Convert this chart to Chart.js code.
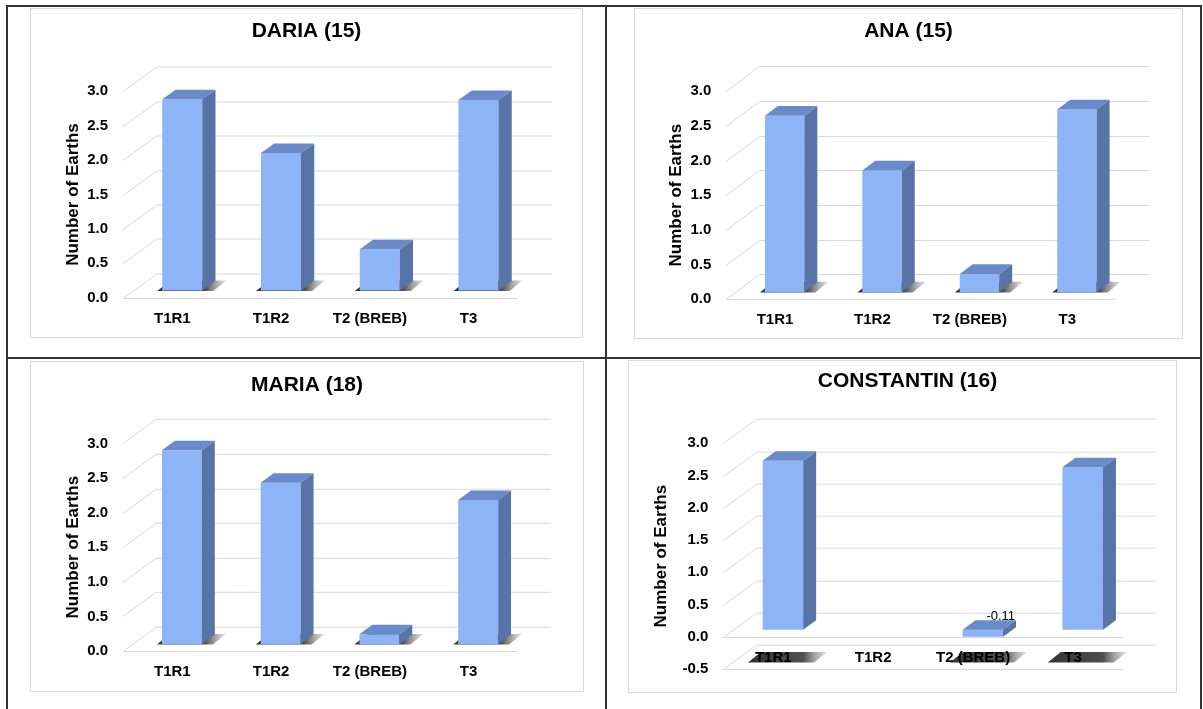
<!DOCTYPE html>
<html>
<head>
<meta charset="utf-8">
<script src="https://cdn.jsdelivr.net/npm/chart.js@4.4.1/dist/chart.umd.min.js"></script>
<style>
  html, body { margin: 0; padding: 0; background: #fff; }
  body { width: 1203px; height: 709px; position: relative; overflow: hidden; }
  .rule { position: absolute; background: #333; }
  .panel { position: absolute; }
  .panel canvas { position: absolute; left: 0; top: 0; }
  .frame { position: absolute; left: 0; top: 0; right: 0; bottom: 0; border: 1px solid #d9d9d9; box-sizing: border-box; pointer-events: none; }
</style>
</head>
<body>
<!-- table rules around the four panels -->
<div class="rule" style="left:6px;top:5px;width:1196px;height:2px"></div>
<div class="rule" style="left:6px;top:5px;width:2px;height:704px"></div>
<div class="rule" style="left:605px;top:5px;width:2px;height:704px"></div>
<div class="rule" style="left:1200px;top:5px;width:2px;height:704px"></div>
<div class="rule" style="left:6px;top:357px;width:1196px;height:2px"></div>

<script>
// ---- data ----
const categories = ['T1R1', 'T1R2', 'T2 (BREB)', 'T3'];
const panelTitles = ['DARIA (15)', 'ANA (15)', 'MARIA (18)', 'CONSTANTIN (16)'];
const yAxisTitle = 'Number of Earths';

const dariaValues = [2.78, 2.0, 0.6, 2.77];
const anaValues = [2.54, 1.75, 0.26, 2.63];
const mariaValues = [2.80, 2.33, 0.14, 2.08];
const constantinValues = [2.62, null, -0.11, 2.52];

// indices of bars that carry a value label
const dariaLabelled = [];
const anaLabelled = [];
const mariaLabelled = [];
const constantinLabelled = [2];

const yMins = [0, 0, 0, -0.5];
const yMax = 3.0;
const yStep = 0.5;

// ---- layout (pixels, relative to each panel frame) ----
const panelLayouts = [
  { x: 30,  y: 8,   w: 553, h: 330, left: 93,   right: 488, top: 83.3, bottom: 289.7, titleY: 23.5, titleShift: 0, axisTitleX: 43.5, depth: [34, -24.5] },
  { x: 634, y: 8,   w: 549, h: 331, left: 92.3, right: 482, top: 83.1, bottom: 291.3, titleY: 23.3, titleShift: 0, axisTitleX: 42.5, depth: [33.2, -25] },
  { x: 30,  y: 361, w: 554, h: 331, left: 93,   right: 488, top: 82.4, bottom: 290,   titleY: 24,   titleShift: 0, axisTitleX: 43,   depth: [33, -24.2] },
  { x: 628, y: 360, w: 549, h: 333, left: 95.3, right: 495, top: 83.3, bottom: 312.7, titleY: 21.7, titleShift: 5, axisTitleX: 33,   depth: [33.3, -24.3] }
];

const FONT = "'Liberation Sans', Arial, sans-serif";
const FRONT = '#8db4f7', TOPFACE = '#6a8bc9', SIDE = '#5874a6', GRID = '#d9d9d9';

function poly(ctx, pts) {
  ctx.beginPath();
  ctx.moveTo(pts[0][0], pts[0][1]);
  for (let i = 1; i < pts.length; i++) ctx.lineTo(pts[i][0], pts[i][1]);
  ctx.closePath();
  ctx.fill();
}

// Pseudo-3D column look: walls, floor shadows, side and top faces.
function depthPlugin(L, values, labelled) {
  const [Dx, Dy] = L.depth;
  const fx = 0.29 * Dx, fy = 0.29 * Dy;   // front plane of the columns
  const bx = 0.39 * Dx, by = 0.39 * Dy;   // column depth
  return {
    id: 'depth3d',
    beforeDraw(chart) {
      const ctx = chart.ctx, a = chart.chartArea, ys = chart.scales.y;
      ctx.save();
      ctx.strokeStyle = GRID;
      ctx.lineWidth = 1;
      ctx.beginPath();
      ys.ticks.forEach(t => {
        const y = Math.round(ys.getPixelForValue(t.value)) + 0.5;
        ctx.moveTo(a.left, y);
        ctx.lineTo(a.left + Dx, y + Dy);
        ctx.lineTo(a.right + Dx, y + Dy);
      });
      const fronts = ys.min < 0 ? [ys.min, 0] : [ys.min];
      fronts.forEach(v => {
        const y = Math.round(ys.getPixelForValue(v)) + 0.5;
        ctx.moveTo(a.left, y);
        ctx.lineTo(a.right, y);
      });
      ctx.stroke();

      // shadows on the floor
      const floor = ys.getPixelForValue(ys.min) + fy;
      const meta = chart.getDatasetMeta(0);
      ctx.filter = 'blur(0.7px)';
      meta.data.forEach((bar, i) => {
        if (values[i] == null) return;
        const bottom = Math.max(bar.y, bar.base) + fy;
        const gap = Math.max(0, floor - bottom);
        const xl = bar.x - bar.width / 2 + fx, xr = bar.x + bar.width / 2 + fx;
        const extL = 5 + 0.3 * gap, extR = 11;
        const g = ctx.createLinearGradient(xl - extL, 0, xr + bx + extR, 0);
        g.addColorStop(0, 'rgba(40,40,40,0.95)');
        g.addColorStop(0.7, 'rgba(60,60,60,0.9)');
        g.addColorStop(1, 'rgba(140,140,140,0.25)');
        ctx.fillStyle = g;
        poly(ctx, [[xl - extL, floor + 0.5], [xr + extR, floor + 0.5], [xr + bx + extR, floor + by - 0.5], [xl + bx - extL, floor + by - 0.5]]);
      });
      ctx.restore();
    },
    beforeDatasetsDraw(chart) {
      chart.ctx.save();
      chart.ctx.translate(fx, fy);
    },
    afterDatasetsDraw(chart) {
      const ctx = chart.ctx;
      const meta = chart.getDatasetMeta(0);
      meta.data.forEach((bar, i) => {
        if (values[i] == null) return;
        const top = Math.min(bar.y, bar.base), bot = Math.max(bar.y, bar.base);
        const l = bar.x - bar.width / 2, r = bar.x + bar.width / 2;
        ctx.fillStyle = TOPFACE;
        poly(ctx, [[l, top], [r, top], [r + bx, top + by], [l + bx, top + by]]);
        ctx.fillStyle = SIDE;
        poly(ctx, [[r, top], [r + bx, top + by], [r + bx, bot + by], [r, bot]]);
      });
      labelled.forEach(i => {
        const bar = meta.data[i];
        const top = Math.min(bar.y, bar.base);
        ctx.fillStyle = '#000';
        ctx.font = '13px ' + FONT;
        ctx.textAlign = 'center';
        ctx.textBaseline = 'middle';
        ctx.fillText(values[i].toFixed(2), bar.x + bx + 5, top + by - 3.5);
      });
      ctx.restore();
    }
  };
}

function makePanel(idx, values, labelled) {
  const L = panelLayouts[idx];
  const wrap = document.createElement('div');
  wrap.className = 'panel';
  wrap.style.cssText = `left:${L.x}px;top:${L.y}px;width:${L.w}px;height:${L.h}px`;
  const canvas = document.createElement('canvas');
  canvas.width = L.w; canvas.height = L.h;
  canvas.style.width = L.w + 'px'; canvas.style.height = L.h + 'px';
  wrap.appendChild(canvas);
  const frame = document.createElement('div');
  frame.className = 'frame';
  wrap.appendChild(frame);
  document.body.appendChild(wrap);

  const titleLH = 21 * 1.2;
  const titlePadTop = L.titleY - titleLH / 2;
  const axisTitleLH = 17 * 1.2;
  const padL = 2 * L.titleShift;

  new Chart(canvas, {
    type: 'bar',
    data: {
      labels: categories,
      datasets: [{
        data: values,
        backgroundColor: FRONT,
        borderWidth: 0,
        barPercentage: 0.405,
        categoryPercentage: 1,
        clip: false
      }]
    },
    options: {
      responsive: false,
      animation: false,
      devicePixelRatio: 1,
      events: [],
      layout: { padding: { left: padL, right: 0, top: 0, bottom: L.h - L.bottom } },
      plugins: {
        legend: { display: false },
        tooltip: { enabled: false },
        title: {
          display: true,
          text: panelTitles[idx],
          color: '#000',
          font: { family: FONT, size: 21, weight: 'bold' },
          padding: { top: titlePadTop, bottom: L.top - titlePadTop - titleLH }
        }
      },
      scales: {
        x: {
          type: 'category',
          position: { y: 0 },
          grid: { display: false, drawTicks: false },
          border: { display: false },
          ticks: { color: '#000', font: { family: FONT, size: 15, weight: 'bold' }, padding: 12, maxRotation: 0, autoSkip: false }
        },
        y: {
          type: 'linear',
          position: 'left',
          min: yMins[idx],
          max: yMax,
          grid: { display: false, drawTicks: false },
          border: { display: false },
          ticks: {
            stepSize: yStep,
            padding: 15,
            color: '#000',
            font: { family: FONT, size: 15, weight: 'bold' },
            callback: v => Number(v).toFixed(1)
          },
          title: {
            display: true,
            text: yAxisTitle,
            color: '#000',
            font: { family: FONT, size: 17, weight: 'bold' },
            padding: { top: L.axisTitleX - axisTitleLH / 2 - padL, bottom: 0 }
          },
          afterFit: s => { s.width = L.left - padL; }
        },
        yRight: {
          type: 'linear',
          position: 'right',
          display: true,
          grid: { display: false, drawTicks: false },
          border: { display: false },
          ticks: { display: false },
          afterFit: s => { s.width = L.w - L.right; }
        }
      }
    },
    plugins: [depthPlugin(L, values, labelled)]
  });
}

makePanel(0, dariaValues, dariaLabelled);
makePanel(1, anaValues, anaLabelled);
makePanel(2, mariaValues, mariaLabelled);
makePanel(3, constantinValues, constantinLabelled);
</script>
</body>
</html>
